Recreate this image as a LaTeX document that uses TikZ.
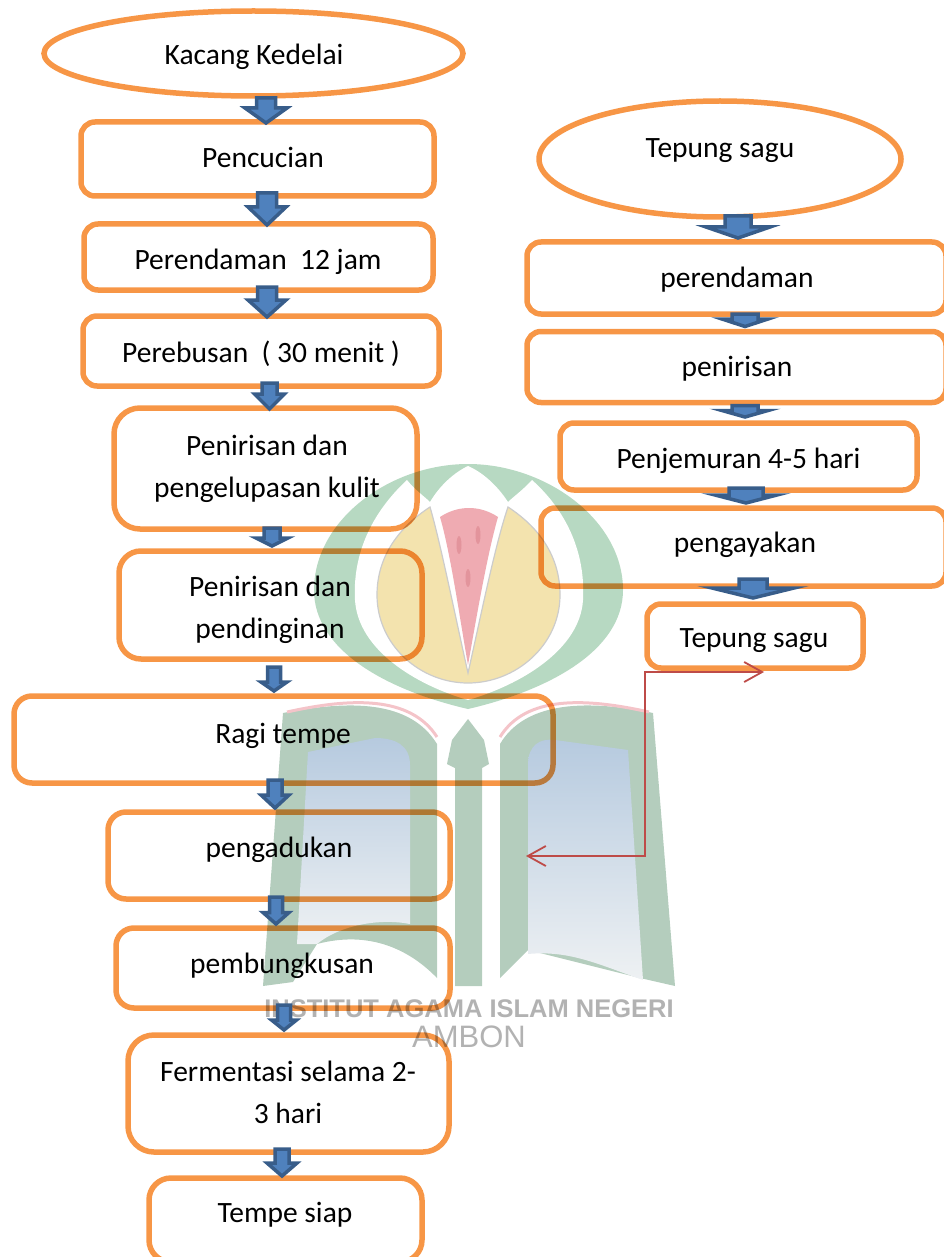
\documentclass[tikz,border=0pt]{standalone}
\usepackage{fontspec}
\setmainfont{Carlito}
\newfontfamily\stampfont{Liberation Sans}
\usetikzlibrary{shapes.geometric,arrows.meta}

\definecolor{boxorange}{HTML}{F79646}
\definecolor{arrowblue}{HTML}{4F81BD}
\definecolor{arrowedge}{HTML}{385D8A}
\definecolor{elbowred}{HTML}{BE4B48}
\definecolor{logogreen}{HTML}{B7D9C2}
\definecolor{bookgreen}{HTML}{B4CDBD}
\definecolor{logoyellow}{HTML}{F3E3AE}
\definecolor{logopink}{HTML}{EFABB2}
\definecolor{logoseed}{HTML}{E3949C}
\definecolor{pagetop}{HTML}{B6CADF}
\definecolor{pagebottom}{HTML}{EEF1F3}

\tikzset{
  stepbox/.style={draw=boxorange,line width=5.5pt,rectangle,rounded corners=#1,inner sep=0pt,outer sep=0pt,blend mode=multiply},
  stepbox/.default=14pt,
  startoval/.style={draw=boxorange,line width=5.5pt,ellipse,inner sep=0pt,outer sep=0pt,blend mode=multiply},
  steptext/.style={font=\fontsize{29.5}{42}\selectfont,align=center,inner sep=0pt,yshift=-3pt},
  stamptext/.style={font=\stampfont\bfseries\fontsize{25.5}{30}\selectfont,text=black!30,inner sep=0pt},
  blockarrow/.style={fill=arrowblue,draw=arrowedge,line width=3.5pt,line join=miter,miter limit=12},
  elbowline/.style={draw=elbowred,line width=2pt,{Straight Barb[length=18pt,width=20pt,line width=1.8pt]}-{Straight Barb[length=18pt,width=20pt,line width=1.8pt]}}
}

% from node, to node, x, half shaft, half head, neck drop, top drop, tip drop
\newcommand{\flowarrow}[8]{
  \coordinate (arrowtop) at (#3,0 |- #1.south);
  \coordinate (arrowtip) at (#3,0 |- #2.north);
  \filldraw[blockarrow] ([xshift=-#4pt,yshift=-#7pt]arrowtop) -- ([xshift=-#4pt,yshift=-#6pt]arrowtop) -- ([xshift=-#5pt,yshift=-#6pt]arrowtop)
    -- ([yshift=-#8pt]arrowtip) -- ([xshift=#5pt,yshift=-#6pt]arrowtop) -- ([xshift=#4pt,yshift=-#6pt]arrowtop) -- ([xshift=#4pt,yshift=-#7pt]arrowtop) -- cycle;
}

\begin{document}
\begin{tikzpicture}[x=1pt,y=-1pt]
\useasboundingbox (0,0) rectangle (944,1257);
\clip (0,0) rectangle (944,1257);

% stamp behind the chart
\fill[logogreen] (314,590) .. controls (314,520) and (390,464) .. (468,464) .. controls (546,464) and (623,520) .. (623,590)
  .. controls (623,650) and (550,690) .. (468,709) .. controls (386,690) and (314,650) .. (314,590) -- cycle;
\fill[white] (355,600) .. controls (352,545) and (380,505) .. (407,480) .. controls (415,490) and (425,497) .. (430,502)
  .. controls (440,485) and (455,472) .. (468,466) .. controls (482,472) and (497,485) .. (508,502) .. controls (513,497) and (523,490) .. (532,480)
  .. controls (560,505) and (586,545) .. (583,600) .. controls (580,650) and (520,685) .. (468,700) .. controls (416,685) and (358,650) .. (355,600) -- cycle;
\filldraw[fill=logoyellow,draw=black!20,line width=1.2pt] (430,507) .. controls (395,530) and (377,560) .. (377,595) .. controls (377,645) and (420,683) .. (468,683)
  .. controls (516,683) and (560,645) .. (560,595) .. controls (560,560) and (543,530) .. (508,507)
  .. controls (495,545) and (480,620) .. (468,673) .. controls (456,620) and (441,545) .. (430,507) -- cycle;
\fill[logopink] (440,517) .. controls (458,505) and (480,505) .. (498,517) .. controls (487,555) and (476,620) .. (468,665) .. controls (460,620) and (451,555) .. (440,517) -- cycle;
\fill[logoseed] (459,545) ellipse (2.5 and 9);
\fill[logoseed] (478,535) ellipse (2.5 and 9);
\fill[logoseed] (468,578) ellipse (2.5 and 9);
% left page
\fill[bookgreen] (283,713) .. controls (350,700) and (410,700) .. (437,744) -- (437,978) .. controls (410,950) and (370,930) .. (317,944)
  -- (293,982) -- (263,986) -- cycle;
\shade[top color=pagetop,bottom color=pagebottom] (308,752) -- (375,738) .. controls (395,738) and (410,745) .. (410,765) -- (410,924)
  .. controls (380,918) and (340,925) .. (317,944) -- (297,944) -- cycle;
\draw[logopink!70,line width=3pt] (287,712) .. controls (350,698) and (410,695) .. (437,737);
% right page
\fill[bookgreen] (653,713) .. controls (590,700) and (526,700) .. (500,744) -- (500,978) -- (528,950) -- (640,978) -- (675,986) -- cycle;
\shade[top color=pagetop,bottom color=pagebottom] (628,750) -- (555,740) .. controls (540,738) and (528,745) .. (528,765) -- (528,954)
  .. controls (570,950) and (600,965) .. (643,980) -- cycle;
\draw[logopink!70,line width=3pt] (649,712) .. controls (586,698) and (526,695) .. (500,737);
\fill[bookgreen] (468,719) -- (484,740) -- (489,764) -- (482,768) -- (482,986) -- (455,986) -- (455,768) -- (447,764) -- (452,740) -- cycle;
\node[stamptext] (stampone) at (469,1009) {INSTITUT AGAMA ISLAM NEGERI};
\node[stamptext,font=\stampfont\fontsize{31}{30}\selectfont] (stamptwo) at (469,1037) {AMBON};

% left chart
\node[startoval,minimum width=419pt,minimum height=85pt] (kedelai) at (253.5,53.5) {};
\node[stepbox,minimum width=353pt,minimum height=74pt] (pencucian) at (257.5,159) {};
\node[stepbox,minimum width=349pt,minimum height=66pt] (rendam) at (258.5,257) {};
\node[stepbox,minimum width=356pt,minimum height=70pt] (rebus) at (261,351) {};
\node[stepbox=26pt,minimum width=303pt,minimum height=121pt] (kulit) at (265.5,468.5) {};
\node[stepbox=22pt,minimum width=303pt,minimum height=108pt] (dingin) at (270.5,605) {};
\node[stepbox=18pt,minimum width=539pt,minimum height=87pt] (ragi) at (283.5,739.5) {};
\node[stepbox=18pt,minimum width=342pt,minimum height=87pt] (aduk) at (279,855.5) {};
\node[stepbox=18pt,minimum width=334pt,minimum height=80pt] (bungkus) at (283,968) {};
\node[stepbox=26pt,minimum width=321pt,minimum height=117pt] (fermentasi) at (288.5,1093.5) {};
\node[stepbox=22pt,minimum width=273pt,minimum height=84pt] (siap) at (285.5,1220) {};

\node[steptext] (kedelaitext) at (254,54) {Kacang Kedelai};
\node[steptext] (pencuciantext) at (263,154) {Pencucian};
\node[steptext] (rendamtext) at (258,259) {Perendaman\ \ 12 jam};
\node[steptext] (rebustext) at (261,351) {Perebusan\ \ ( 30 menit )};
\node[steptext] (kulittext) at (267,466) {Penirisan dan\\pengelupasan kulit};
\node[steptext] (dingintext) at (270,607) {Penirisan dan\\pendinginan};
\node[steptext] (ragitext) at (283,733) {Ragi tempe};
\node[steptext] (aduktext) at (279,847) {pengadukan};
\node[steptext] (bungkustext) at (282,963) {pembungkusan};
\node[steptext] (fermentasitext) at (288,1089) {Fermentasi selama 2-\\3 hari};
\node[steptext] (siaptext) at (285,1212) {Tempe siap};

% right chart
\node[startoval,minimum width=362pt,minimum height=116pt] (sagu) at (720,159) {};
\node[stepbox,minimum width=419pt,minimum height=72pt] (sagurendam) at (736.5,278) {};
\node[stepbox,minimum width=419pt,minimum height=71pt] (tiris) at (736.5,367) {};
\node[stepbox,minimum width=357pt,minimum height=67pt] (jemur) at (738.5,456.5) {};
\node[stepbox,minimum width=405pt,minimum height=78pt] (ayak) at (743.5,547) {};
\node[stepbox,minimum width=216pt,minimum height=64pt] (hasil) at (755,636) {};

\node[steptext] (sagutext) at (720,148) {Tepung sagu};
\node[steptext] (sagurendamtext) at (737,277) {perendaman};
\node[steptext] (tiristext) at (737,366) {penirisan};
\node[steptext] (jemurtext) at (738.5,458) {Penjemuran 4-5 hari};
\node[steptext] (ayaktext) at (745,542) {pengayakan};
\node[steptext] (hasiltext) at (754,638) {Tepung sagu};

% block arrows
\flowarrow{kedelai}{pencucian}{266}{9.5}{21}{12}{2}{1}
\flowarrow{pencucian}{rendam}{267}{9.5}{19}{11}{-3}{1}
\flowarrow{rendam}{rebus}{267}{9.5}{19}{10}{-3}{1}
\flowarrow{rebus}{kulit}{269.5}{7.5}{15}{8}{-3}{1}
\flowarrow{kulit}{dingin}{272}{8}{16}{9}{-1}{-5}
\flowarrow{dingin}{ragi}{274}{6.5}{13}{23}{8}{-5}
\flowarrow{ragi}{aduk}{275}{7}{14}{12}{-3}{-4}
\flowarrow{aduk}{bungkus}{276}{6.5}{13}{13.5}{-2}{-4}
\flowarrow{bungkus}{fermentasi}{284}{6.5}{12.5}{12}{-3}{-5}
\flowarrow{fermentasi}{siap}{282}{7}{15}{11}{-3}{-2}
\flowarrow{sagu}{sagurendam}{738}{13}{32}{10}{-1}{-4}
\flowarrow{sagurendam}{tiris}{745}{13}{23}{5}{0}{-5}
\flowarrow{tiris}{jemur}{745}{13}{23}{8}{3}{-6}
\flowarrow{jemur}{ayak}{746}{17}{31}{5}{-2}{-5}
\flowarrow{ayak}{hasil}{753}{14}{41}{2}{-7}{-6}

% red elbow
\coordinate (elbowleft) at (526,856);
\coordinate (elbowlow) at (645,856);
\coordinate (elbowhigh) at (645,672);
\coordinate (elbowright) at (764,672);
\draw[elbowline] (elbowleft) -- (elbowlow) -- (elbowhigh) -- (elbowright);
\end{tikzpicture}
\end{document}
